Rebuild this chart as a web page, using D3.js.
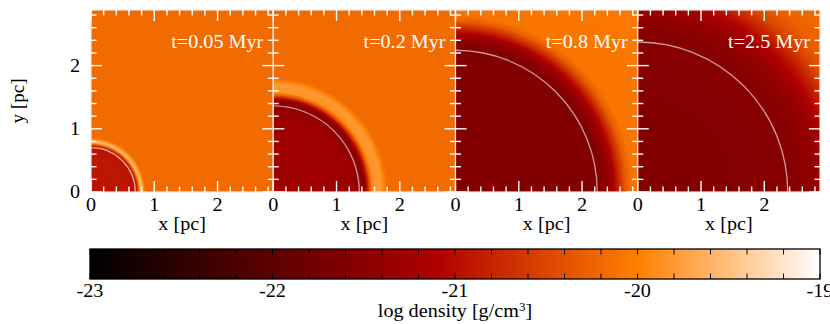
<!DOCTYPE html>
<html>
<head>
<meta charset="utf-8">
<script src="https://cdn.jsdelivr.net/npm/d3@7"></script>
<style>
  body { margin: 0; background: #fff; }
  svg { display: block; }
  text { font-family: "Liberation Serif", "Times New Roman", serif; }
</style>
</head>
<body>
<svg id="chart" width="830" height="324"></svg>
<script>
/* panel captions */
var panelLabels = [ "t=0.05 Myr", "t=0.2 Myr", "t=0.8 Myr", "t=2.5 Myr" ];

/* radial density profiles, radius in pc -> log density */
var profileRadius = [
    [ 0, 0.5, 0.69, 0.73, 0.76, 0.79, 0.82, 0.86, 4.2 ],
    [ 0, 1.2, 1.36, 1.44, 1.48, 1.53, 1.58, 1.70, 1.76, 1.80, 4.2 ],
    [ 0, 2.3, 2.4, 2.5, 2.6, 2.7, 2.8, 4.2 ],
    [ 0, 2.5, 2.8, 3.0, 3.2, 3.4, 3.6, 3.9, 4.2 ]
];
var profileLogRho = [
    [ -20.95, -20.9, -20.95, -20.8, -20.0, -19.5, -19.8, -20.18, -20.18 ],
    [ -21.27, -21.3, -21.45, -21.5, -21.0, -20.3, -19.85, -19.8, -20.0, -20.18, -20.18 ],
    [ -21.6, -21.6, -21.45, -21.15, -20.7, -20.3, -20.1, -20.05 ],
    [ -21.6, -21.55, -21.4, -21.2, -20.85, -20.5, -20.3, -20.2, -20.2 ]
];

/* analytic front radius drawn as a thin arc, pc */
var shockRadius = [ 0.70, 1.36, 2.24, 2.37 ];

/* tick labels */
var axisTicks = [ 0, 1, 2 ];
var barTicks  = [ -23, -22, -21, -20, -19 ];

/* colour palette knots */
var paletteStops  = [ -23, -21.1, -20, -19 ];
var paletteColors = [ "#000000", "#b00000", "#ff8000", "#ffffff" ];

(function( ) {

"use strict";

var svg = d3.select("#chart"),
    defs = svg.append("defs"),

    panelLeft = 91, panelTop = 10,
    panelW = 182.25, panelH = 182,
    extent = 2.88,

    barX0 = 90, barX1 = 820, barY = 249, barH = 30,

    fontSize = 18.5,
    stretchK = 1.09,

    xs = d3.scaleLinear().domain([ 0, extent ]).range([ 0, panelW ]),
    ys = d3.scaleLinear().domain([ 0, extent ]).range([ panelH, 0 ]),
    palette = d3.scaleLinear().domain(paletteStops).range(paletteColors).clamp(true),
    barScale = d3.scaleLinear().domain([ -23, -19 ]).range([ barX0, barX1 ]),

    /* every 0.2 pc, majors at integers */
    tickVals = d3.range(0, 15).map(function( i ){ return i / 5; }),
    barTickVals = d3.range(0, 21).map(function( i ){ return -23 + i / 5; }),

    /* _stretch
     * widens text a little, the reference type is set wide
    */
    _stretch = function( sel, k ) {
        sel.each(function( ) {
            var w = this.getComputedTextLength( );
            this.setAttribute("textLength", w * k);
            this.setAttribute("lengthAdjust", "spacingAndGlyphs");
        });
    },

    /* _field
     * paints one radial profile into a data url
    */
    _field = function( k ) {
        var cw = Math.round(panelW), ch = Math.round(panelH),
            canvas = document.createElement("canvas"),
            ctx, img, prof, i, j, r, c, p;

        canvas.width = cw;
        canvas.height = ch;
        ctx = canvas.getContext("2d");
        img = ctx.createImageData(cw, ch);
        prof = d3.scaleLinear().domain(profileRadius[k]).range(profileLogRho[k]).clamp(true);

        for( j = 0; j < ch; j++ ){
            for( i = 0; i < cw; i++ ){
                r = Math.hypot(xs.invert((i + 0.5) * panelW / cw), ys.invert((j + 0.5) * panelH / ch));
                c = d3.rgb(palette(prof(r)));
                p = (j * cw + i) * 4;
                img.data[p] = c.r;
                img.data[p + 1] = c.g;
                img.data[p + 2] = c.b;
                img.data[p + 3] = 255;
            }
        }
        ctx.putImageData(img, 0, 0);
        return canvas.toDataURL( );
    },

    /* _panel
     * draws one snapshot with its white ticks
    */
    _panel = function( k ) {
        var g = svg.append("g")
                .attr("transform", "translate(" + (panelLeft + k * panelW) + "," + panelTop + ")"),
            len = function( v ){ return Math.abs(v - Math.round(v)) < 1e-6 ? 11 : 5.5; },
            arc = d3.path( ),
            ticks;

        g.append("image")
            .attr("href", _field(k))
            .attr("width", panelW)
            .attr("height", panelH)
            .attr("preserveAspectRatio", "none");

        arc.arc(xs(0), ys(0), xs(shockRadius[k]) - xs(0), -Math.PI / 2, 0);
        g.append("path")
            .attr("d", arc.toString( ))
            .attr("fill", "none")
            .attr("stroke", "rgba(255,255,255,0.6)")
            .attr("stroke-width", 1.3);

        g.append("rect")
            .attr("width", panelW)
            .attr("height", panelH)
            .attr("fill", "none")
            .attr("stroke", "#ececec")
            .attr("stroke-width", 1.2);

        ticks = g.append("g")
            .attr("stroke", "#ffffff")
            .attr("stroke-width", 1.4);

        ticks.selectAll("line.b").data(tickVals).join("line").attr("class", "b")
            .attr("x1", xs).attr("x2", xs)
            .attr("y1", panelH).attr("y2", function( v ){ return panelH - len(v); });
        ticks.selectAll("line.t").data(tickVals).join("line").attr("class", "t")
            .attr("x1", xs).attr("x2", xs)
            .attr("y1", 0).attr("y2", len);
        ticks.selectAll("line.l").data(tickVals).join("line").attr("class", "l")
            .attr("y1", ys).attr("y2", ys)
            .attr("x1", 0).attr("x2", len);
        ticks.selectAll("line.r").data(tickVals).join("line").attr("class", "r")
            .attr("y1", ys).attr("y2", ys)
            .attr("x1", panelW).attr("x2", function( v ){ return panelW - len(v); });

        g.append("text")
            .attr("x", panelW - 10)
            .attr("y", 38)
            .attr("text-anchor", "end")
            .attr("fill", "#ffffff")
            .attr("font-size", fontSize)
            .text(panelLabels[k])
            .call(_stretch, stretchK);

        g.selectAll("text.xt").data(axisTicks).join("text").attr("class", "xt")
            .attr("x", xs)
            .attr("y", panelH + 19)
            .attr("text-anchor", "middle")
            .attr("font-size", fontSize)
            .text(function( v ){ return v; })
            .call(_stretch, stretchK);

        g.append("text")
            .attr("x", panelW / 2)
            .attr("y", panelH + 38)
            .attr("text-anchor", "middle")
            .attr("font-size", fontSize)
            .text("x [pc]")
            .call(_stretch, stretchK);

        if( k === 0 ){
            g.selectAll("text.yt").data(axisTicks).join("text").attr("class", "yt")
                .attr("x", -11)
                .attr("y", ys)
                .attr("dy", "0.34em")
                .attr("text-anchor", "end")
                .attr("font-size", fontSize)
                .text(function( v ){ return v; })
                .call(_stretch, stretchK);
        }
    },

    /* _colorbar
     * horizontal key under the panels
    */
    _colorbar = function( ) {
        var grad = defs.append("linearGradient")
                .attr("id", "cbGrad")
                .attr("x1", "0").attr("x2", "1")
                .attr("y1", "0").attr("y2", "0"),
            g = svg.append("g"),
            lab;

        grad.selectAll("stop").data(paletteStops).join("stop")
            .attr("offset", function( v ){ return (barScale(v) - barX0) / (barX1 - barX0); })
            .attr("stop-color", function( v ){ return palette(v); });

        g.append("rect")
            .attr("x", barX0).attr("y", barY)
            .attr("width", barX1 - barX0).attr("height", barH)
            .attr("fill", "url(#cbGrad)");

        g.selectAll("line.ct").data(barTickVals).join("line").attr("class", "ct")
            .attr("x1", barScale).attr("x2", barScale)
            .attr("y1", barY).attr("y2", barY + 5.5)
            .attr("stroke", "#000").attr("stroke-width", 1);
        g.selectAll("line.cb").data(barTickVals).join("line").attr("class", "cb")
            .attr("x1", barScale).attr("x2", barScale)
            .attr("y1", barY + barH).attr("y2", barY + barH - 5.5)
            .attr("stroke", "#000").attr("stroke-width", 1);

        g.append("rect")
            .attr("x", barX0).attr("y", barY)
            .attr("width", barX1 - barX0).attr("height", barH)
            .attr("fill", "none")
            .attr("stroke", "#000").attr("stroke-width", 1.3);

        g.selectAll("text.cl").data(barTicks).join("text").attr("class", "cl")
            .attr("x", barScale)
            .attr("y", barY + barH + 18)
            .attr("text-anchor", "middle")
            .attr("font-size", fontSize)
            .text(function( v ){ return v; })
            .call(_stretch, stretchK);

        lab = g.append("text")
            .attr("x", (barX0 + barX1) / 2)
            .attr("y", 317)
            .attr("text-anchor", "middle")
            .attr("font-size", fontSize);
        lab.append("tspan").text("log density [g/cm");
        lab.append("tspan").attr("dy", -6).attr("font-size", 12).text("3");
        lab.append("tspan").attr("dy", 6).text("]");
        lab.call(_stretch, stretchK);
    };

panelLabels.forEach(function( d, k ){ _panel(k); });

svg.append("text")
    .attr("transform", "translate(24,101) rotate(-90)")
    .attr("text-anchor", "middle")
    .attr("font-size", fontSize)
    .text("y [pc]")
    .call(_stretch, 1.03);

_colorbar( );

})( );
</script>
</body>
</html>
